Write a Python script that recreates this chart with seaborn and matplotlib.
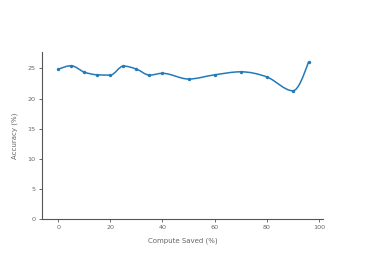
import numpy as np
import matplotlib
matplotlib.use("Agg")
import matplotlib.pyplot as plt
from matplotlib.path import Path
from matplotlib.patches import PathPatch
import seaborn as sns

# Data
compute_saved = [0, 5, 10, 15, 20, 25, 30, 35, 40, 50, 60, 70, 80, 90, 96]
accuracy = [24.85, 25.45, 24.4, 23.95, 23.9, 25.4, 24.9, 23.9, 24.2, 23.25,
            23.95, 24.45, 23.6, 21.3, 26.1]
x_ticks = [0, 20, 40, 60, 80, 100]
y_ticks = [0, 5, 10, 15, 20, 25]

sns.set_style("ticks")
plt.rcParams['font.family'] = ['DejaVu Sans']

LINE = '#2479b8'
TEXT = '#666666'


def monotone_path(x, y):
    # smooth monotone-x cubic through the data points (like d3.curveMonotoneX)
    x = np.asarray(x, float)
    y = np.asarray(y, float)
    n = len(x)
    h = np.diff(x)
    s = np.diff(y) / h
    t = np.zeros(n)
    for i in range(1, n - 1):
        p = (s[i - 1] * h[i] + s[i] * h[i - 1]) / (h[i - 1] + h[i])
        t[i] = (np.sign(s[i - 1]) + np.sign(s[i])) * min(abs(s[i - 1]), abs(s[i]), 0.5 * abs(p))
    t[0] = (3 * s[0] - t[1]) / 2
    t[-1] = (3 * s[-1] - t[-2]) / 2
    verts = [(x[0], y[0])]
    codes = [Path.MOVETO]
    for i in range(n - 1):
        dx = h[i] / 3
        verts += [(x[i] + dx, y[i] + dx * t[i]), (x[i + 1] - dx, y[i + 1] - dx * t[i + 1]),
                  (x[i + 1], y[i + 1])]
        codes += [Path.CURVE4] * 3
    return Path(verts, codes)


fig = plt.figure(figsize=(3.66, 2.61), dpi=100)
ax = fig.add_axes([0.114, 0.160, 0.769, 0.640])

ax.add_patch(PathPatch(monotone_path(compute_saved, accuracy), facecolor='none',
                       edgecolor=LINE, linewidth=1.1))
sns.scatterplot(x=compute_saved, y=accuracy, ax=ax, color=LINE, s=6,
                edgecolor=LINE, linewidth=0, zorder=3)

ax.set_xlim(-6.3, 101.6)
ax.set_ylim(0, 27.7)
ax.set_xticks(x_ticks)
ax.set_yticks(y_ticks)
ax.set_xlabel('Compute Saved (%)', fontsize=5, color=TEXT, labelpad=5)
ax.set_ylabel('Accuracy (%)', fontsize=5, color=TEXT, labelpad=7)
ax.tick_params(labelsize=4.6, colors=TEXT, length=2.5, width=0.6, pad=2)
ax.tick_params(axis='both', color='#555555')
for side in ['left', 'bottom']:
    ax.spines[side].set_color('#555555')
    ax.spines[side].set_linewidth(0.8)
sns.despine(ax=ax)

fig.savefig('out.png', dpi=100)
